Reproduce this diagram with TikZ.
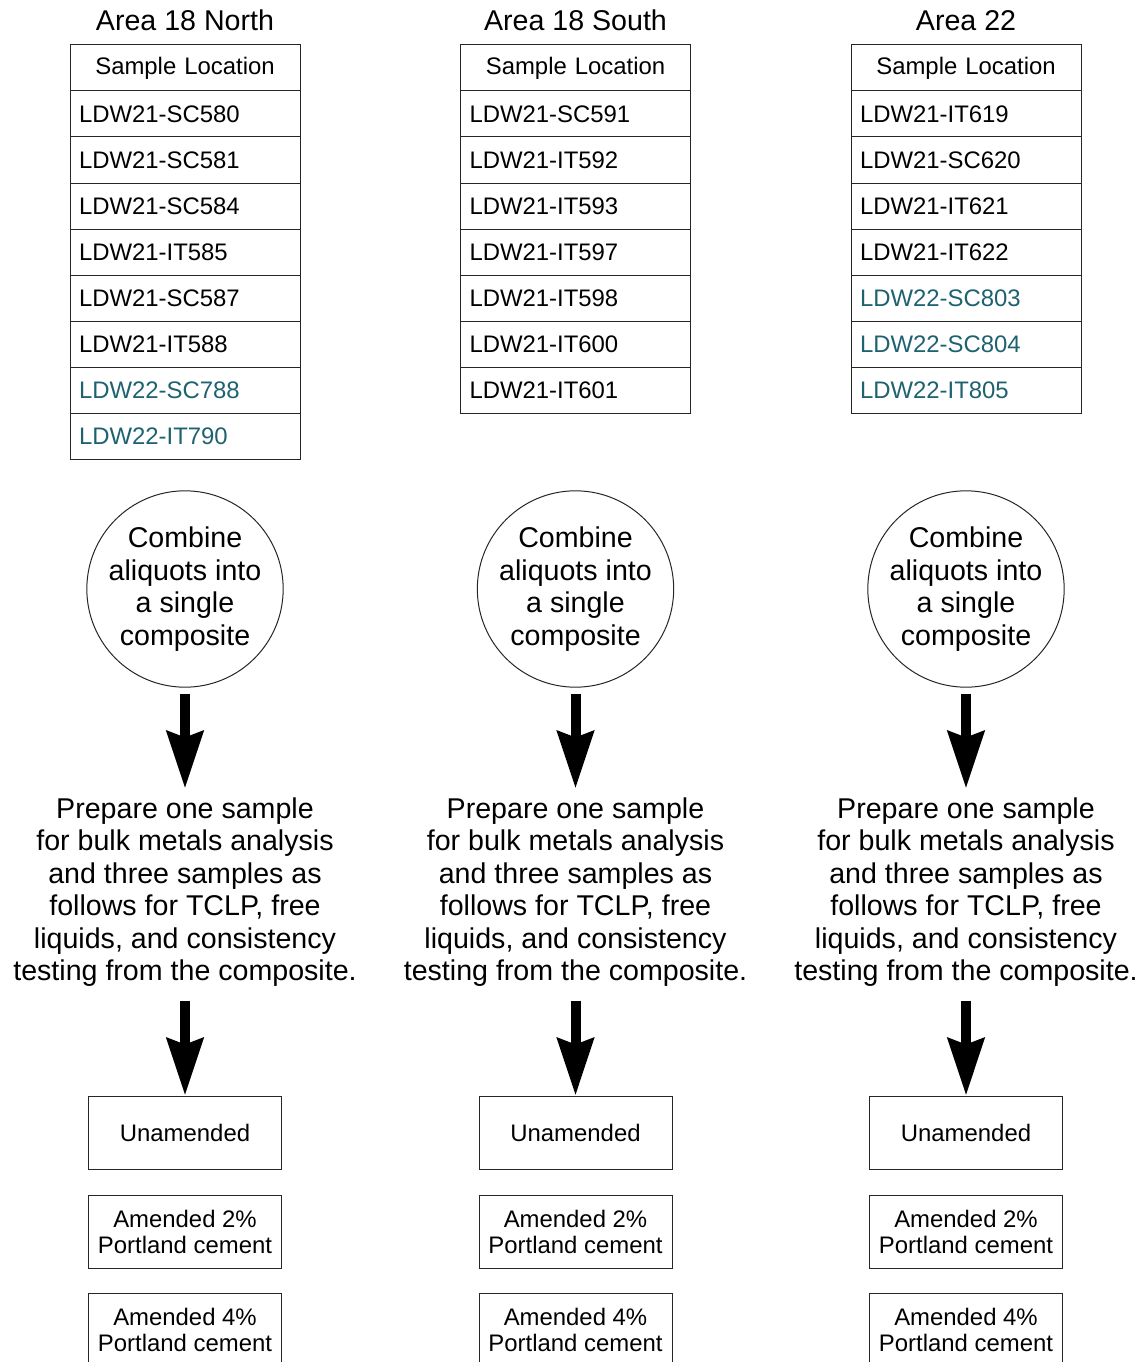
\documentclass[tikz,border=0pt]{standalone}
\usepackage{fontspec}
\setmainfont{Liberation Sans}
\usetikzlibrary{positioning,arrows.meta}
\definecolor{newloc}{RGB}{30,98,112}
\newcommand{\bigfont}{\fontsize{28.6}{32.4}\selectfont}
\newcommand{\smallfont}{\fontsize{23.9}{26}\selectfont}
\begin{document}
\begin{tikzpicture}[x=1pt,y=-1pt,
	title/.style={font=\bigfont,inner sep=0pt},
	cell/.style={draw=black!85,line width=1pt,minimum width=230pt,minimum height=46pt,text width=212pt,align=left,inner sep=0pt,font=\smallfont},
	headcell/.style={cell,align=center},
	mixcircle/.style={circle,draw=black!85,line width=1pt,minimum size=196pt,inner sep=0pt,align=center,font=\bigfont},
	prepnote/.style={align=center,inner sep=0pt,font=\bigfont},
	resultbox/.style={draw=black!85,line width=1pt,minimum width=193pt,minimum height=73pt,inner sep=0pt,align=center,font=\smallfont},
	flow/.style={line width=10pt,-{Stealth[width=36pt,length=57pt,inset=6pt]}}]
	\useasboundingbox (0,0) rectangle (1143,1362);
	\foreach \cx/\tag/\area in {185/n/Area 18 North,575.5/s/Area 18 South,966/t/Area 22}{
		\node[title] (title-\tag) at (\cx,20.5) {\area};
		\node[headcell] (head-\tag) at (\cx,68) {Sample Location};
		\node[mixcircle] (mix-\tag) at (\cx,589) {Combine\\aliquots into\\a single\\composite};
		\node[prepnote] (prep-\tag) at (\cx,892) {Prepare one sample\\for bulk metals analysis\\and three samples as\\follows for TCLP, free\\liquids, and consistency\\testing from the composite.};
		\node[resultbox] (unam-\tag) at (\cx,1132.5) {Unamended};
		\node[resultbox] (amtwo-\tag) at (\cx,1231.5) {Amended 2\%\\Portland cement};
		\node[resultbox] (amfour-\tag) at (\cx,1329.5) {Amended 4\%\\Portland cement};
		\draw[flow] ([yshift=-6pt]mix-\tag.south) -- ([yshift=9pt]prep-\tag.north);
		\draw[flow] ([yshift=-14pt]prep-\tag.south) -- (unam-\tag.north);
	}
	% sample locations
	\foreach \loc/\c [count=\k] in {LDW21-SC580/black,LDW21-SC581/black,LDW21-SC584/black,LDW21-IT585/black,LDW21-SC587/black,LDW21-IT588/black,LDW22-SC788/newloc,LDW22-IT790/newloc}
		\node[cell,text=\c] (loc-n-\k) at (185,{68+46*\k}) {\loc};
	\foreach \loc/\c [count=\k] in {LDW21-SC591/black,LDW21-IT592/black,LDW21-IT593/black,LDW21-IT597/black,LDW21-IT598/black,LDW21-IT600/black,LDW21-IT601/black}
		\node[cell,text=\c] (loc-s-\k) at (575.5,{68+46*\k}) {\loc};
	\foreach \loc/\c [count=\k] in {LDW21-IT619/black,LDW21-SC620/black,LDW21-IT621/black,LDW21-IT622/black,LDW22-SC803/newloc,LDW22-SC804/newloc,LDW22-IT805/newloc}
		\node[cell,text=\c] (loc-t-\k) at (966,{68+46*\k}) {\loc};
\end{tikzpicture}
\end{document}
